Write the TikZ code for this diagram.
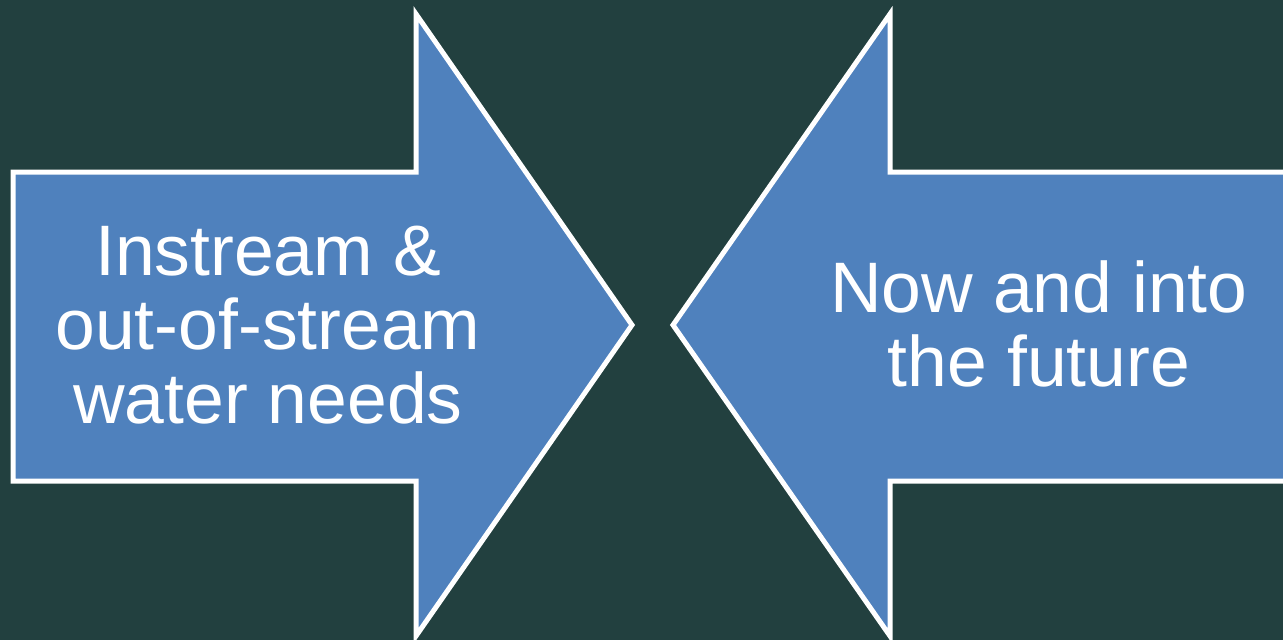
\documentclass[tikz,border=0pt]{standalone}
\usepackage{fontspec}
\setmainfont{Liberation Sans}
\definecolor{bgteal}{HTML}{22403F}
\definecolor{arrowblue}{HTML}{4F81BD}
\begin{document}
\begin{tikzpicture}[x=1pt,y=-1pt,
  bigarrow/.style={fill=arrowblue,draw=white,line width=5pt,line join=miter,miter limit=10},
  arrowtext/.style={text=white,align=center,inner sep=0pt,font=\fontsize{71.5}{74}\selectfont}]
\fill[bgteal] (0,0) rectangle (1283,640);
\useasboundingbox (0,0) rectangle (1283,640);
\draw[bigarrow] (13,172) -- (416,172) -- (416,14) -- (632,325) -- (416,636) -- (416,481) -- (13,481) -- cycle;
\draw[bigarrow] (1300,172) -- (890,172) -- (890,14) -- (673,325) -- (890,636) -- (890,481) -- (1300,481) -- cycle;
\node[arrowtext] (lt) at (268,325) {Instream \&\\out-of-stream\\water needs};
\node[arrowtext] (rt) at (1039,324) {Now and into\\the future};
\end{tikzpicture}
\end{document}
